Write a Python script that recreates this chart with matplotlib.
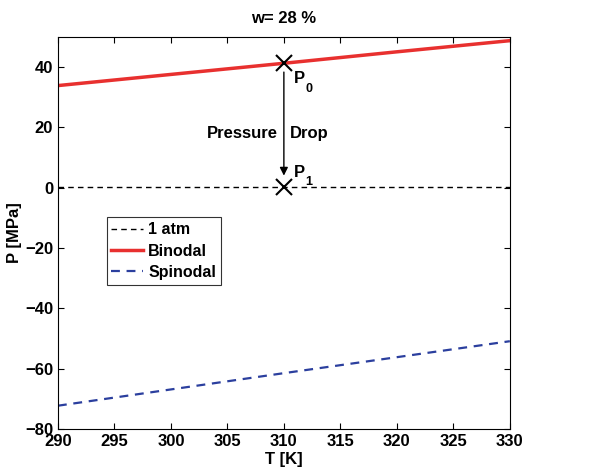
import numpy as np
import matplotlib
matplotlib.use('Agg')
import matplotlib.pyplot as plt

# dados
T = [290, 300, 310, 320, 330]
binodal = [33.9, 37.6, 41.3, 45.1, 48.8]
spinodal = [-72.3, -66.9, -61.5, -56.2, -50.9]
p_atm = 0.101325

T0 = 310
P0 = 41.3
P1 = 0.101325

plt.rcParams['font.family'] = ['Liberation Sans', 'DejaVu Sans']
plt.rcParams['font.weight'] = 'bold'

fig = plt.figure(figsize=(5.97, 4.75), dpi=100)
ax = fig.add_axes([0.097, 0.097, 0.757, 0.825])

ax.plot([T[0], T[-1]], [p_atm, p_atm], '--', color='black', lw=1, dashes=(4, 3), label='1 atm')
ax.plot(T, binodal, '-', color='#e8302f', lw=2.5, label='Binodal')
ax.plot(T, spinodal, '--', color='#2b3f9e', lw=1.6, dashes=(4, 3), label='Spinodal')

# marcadores e seta
ax.plot([T0, T0], [P0, P1], 'x', color='black', ms=11, mew=1.5)
ax.annotate('', xy=(T0, P1 + 3), xytext=(T0, P0 - 2),
            arrowprops=dict(arrowstyle='-|>', color='black', lw=1, mutation_scale=12))

# P0 e P1 com subscrito
ax.text(T0 + 0.9, P0 - 6.5, 'P', fontsize=12, fontweight='bold')
ax.text(T0 + 1.9, P0 - 9.5, '0', fontsize=9, fontweight='bold')
ax.text(T0 + 0.9, P1 + 3.5, 'P', fontsize=12, fontweight='bold')
ax.text(T0 + 1.9, P1 + 0.7, '1', fontsize=9, fontweight='bold')

ax.text(T0 - 0.5, 18, 'Pressure', fontsize=12, fontweight='bold', ha='right', va='center')
ax.text(T0 + 0.5, 18, 'Drop', fontsize=12, fontweight='bold', ha='left', va='center')

ax.set_xlim(290, 330)
ax.set_ylim(-80, 50)
ax.set_xticks(np.arange(290, 331, 5))
ax.set_yticks(np.arange(-80, 41, 20))
ax.tick_params(direction='in', top=True, right=True, labelsize=12, length=4)
for lab in ax.get_xticklabels() + ax.get_yticklabels():
    lab.set_fontweight('bold')

ax.set_xlabel('T [K]', fontsize=12, fontweight='bold', labelpad=2)
ax.set_ylabel('P [MPa]', fontsize=12, fontweight='bold', labelpad=2)
ax.set_title('w= 28 %', fontsize=12, fontweight='bold', pad=10)

leg = ax.legend(loc='upper left', bbox_to_anchor=(0.09, 0.56), fontsize=11.5,
                fancybox=False, edgecolor='black', handlelength=2.0, handletextpad=0.3,
                borderpad=0.3, labelspacing=0.4)
leg.get_frame().set_linewidth(0.8)

fig.savefig('out.png', dpi=100)
